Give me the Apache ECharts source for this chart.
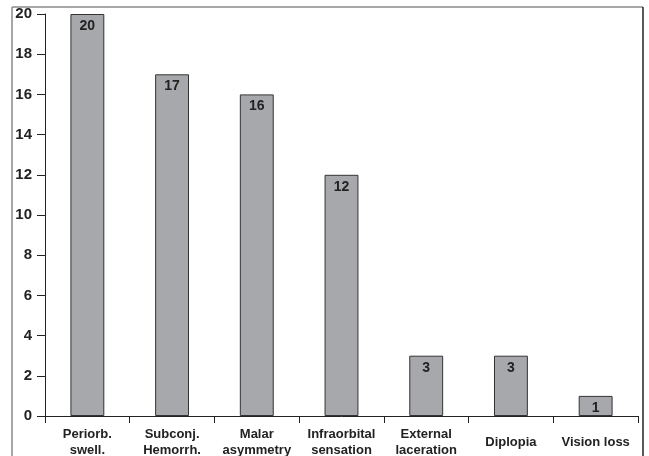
<!DOCTYPE html>
<html>
<head>
<meta charset="utf-8">
<script src="https://cdn.jsdelivr.net/npm/echarts@6/dist/echarts.min.js"></script>
<style>html,body{margin:0;padding:0;background:#fff}#c{width:649px;height:456px}</style>
</head>
<body>
<div id="c"></div>
<script>
const categories = ['Periorb.\nswell.', 'Subconj.\nHemorrh.', 'Malar\nasymmetry', 'Infraorbital\nsensation', 'External\nlaceration', 'Diplopia', 'Vision loss'];
const values = [20, 17, 16, 12, 3, 3, 1];
const yTicks = [0, 2, 4, 6, 8, 10, 12, 14, 16, 18, 20];

const chart = echarts.init(document.getElementById('c'), null, {renderer: 'canvas'});
chart.setOption({
  animation: false,
  textStyle: {fontFamily: 'Liberation Sans, Arial, sans-serif'},
  grid: {left: 45, right: 11, top: 14, bottom: 40, containLabel: false, outerBoundsMode: 'none'},
  graphic: [
    {type: 'line', shape: {x1: 12, y1: 7, x2: 12, y2: 460}, style: {stroke: '#8a8a8a', lineWidth: 1.5}, silent: true},
    {type: 'line', shape: {x1: 12, y1: 7, x2: 643, y2: 7}, style: {stroke: '#8a8a8a', lineWidth: 1.5}, silent: true},
    {type: 'line', shape: {x1: 643, y1: 7, x2: 643, y2: 460}, style: {stroke: '#222', lineWidth: 1.5}, silent: true}
  ],
  xAxis: {
    type: 'category',
    data: categories,
    axisLine: {lineStyle: {color: '#222', width: 1}},
    axisTick: {show: true, length: 7, lineStyle: {color: '#222'}},
    axisLabel: {
      color: '#222', fontWeight: 'bold', fontSize: 13, lineHeight: 16,
      interval: 0, margin: 26, verticalAlign: 'middle'
    }
  },
  yAxis: {
    type: 'value',
    min: yTicks[0], max: yTicks[yTicks.length - 1], interval: 2,
    axisLine: {show: true, lineStyle: {color: '#222', width: 1}},
    axisTick: {show: true, length: 8, lineStyle: {color: '#222'}},
    splitLine: {show: false},
    axisLabel: {color: '#222', fontWeight: 'bold', fontSize: 15, margin: 13}
  },
  series: [{
    type: 'bar',
    data: values,
    barWidth: '40%',
    itemStyle: {color: '#a7a8ab', borderColor: '#333', borderWidth: 1},
    label: {
      show: true, position: 'insideTop', distance: 5,
      color: '#222', fontWeight: 'bold', fontSize: 14
    }
  }]
});
</script>
</body>
</html>
